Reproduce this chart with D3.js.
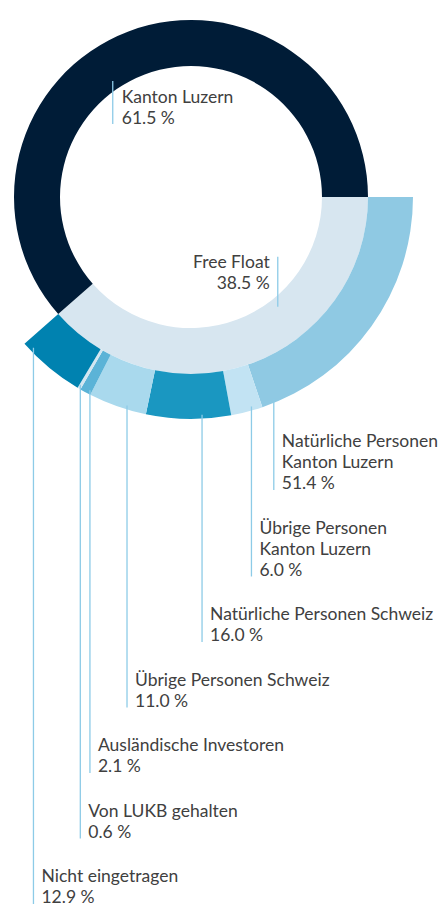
<!DOCTYPE html>
<html>
<head>
<meta charset="utf-8">
<script src="https://cdn.jsdelivr.net/npm/d3@7"></script>
<style>
  body { margin: 0; background: #fff; }
  text { font-family: Lato, "Open Sans", sans-serif; font-size: 17.5px; fill: #404040; }
</style>
</head>
<body>
<div class="visual"></div>
<script>
// shareholders (inner ring), in clockwise order from 3 o'clock
const holders = ["Free Float", "Kanton Luzern"];
const holderShares = [38.5, 61.5];

// free float breakdown (outer ring), clockwise
const groups = [
  ["Natürliche Personen", "Kanton Luzern"],
  ["Übrige Personen", "Kanton Luzern"],
  ["Natürliche Personen Schweiz"],
  ["Übrige Personen Schweiz"],
  ["Ausländische Investoren"],
  ["Von LUKB gehalten"],
  ["Nicht eingetragen"]
];
const groupShares = [51.4, 6.0, 16.0, 11.0, 2.1, 0.6, 12.9];

const width = 439;
const height = 906;
const cx = 191, cy = 197;

const holderColors = ["#d7e6f0", "#001c37"];
const groupColors = ["#8fc9e3", "#c2e3f3", "#1a97c1", "#a9d9ed", "#5bb3d7", "#d2e6f1", "#0082b0"];
const lineColor = "#8dcbe7";

const svg = d3
  .select(".visual")
  .append("svg")
  .attr("width", width)
  .attr("height", height);

const g = svg.append("g").attr("transform", `translate(${cx},${cy})`);

const start = Math.PI / 2;
const fmt = (v) => d3.format(".1f")(v) + " %";

// inner ring
const innerPie = d3.pie().sort(null).startAngle(start).endAngle(start + 2 * Math.PI);
const innerArc = d3.arc().innerRadius(131).outerRadius(177);
const innerData = innerPie(holderShares);

g.selectAll("path.holder")
  .data(innerData)
  .enter()
  .append("path")
  .attr("class", "holder")
  .attr("d", innerArc)
  .attr("fill", (d, i) => holderColors[i]);

// outer ring spans the free float slice only
const ff = innerData[0];
const outerPie = d3.pie().sort(null).startAngle(ff.startAngle).endAngle(ff.endAngle);
const outerArc = d3.arc().innerRadius(177).outerRadius(222);
const outerData = outerPie(groupShares);

g.selectAll("path.group")
  .data(outerData)
  .enter()
  .append("path")
  .attr("class", "group")
  .attr("d", outerArc)
  .attr("fill", (d, i) => groupColors[i]);

// labels for inner ring
const lineH = 21;
const innerLab = [
  { frac: 0.373, len: 50, up: true, anchor: "end", dx: -8, base: 268 },
  { frac: 0.44, len: 43, up: false, anchor: "start", dx: 9, base: 103 }
];
innerData.forEach((d, i) => {
  const L = innerLab[i];
  const a = d.startAngle + L.frac * (d.endAngle - d.startAngle);
  const x = 140 * Math.sin(a);
  const y = -140 * Math.cos(a);
  g.append("line")
    .attr("x1", x).attr("x2", x)
    .attr("y1", y).attr("y2", L.up ? y - L.len : y + L.len)
    .attr("stroke", lineColor)
    .attr("stroke-width", 1.3);
  const t = svg.append("text")
    .attr("x", cx + x + L.dx)
    .attr("y", L.base)
    .attr("text-anchor", L.anchor);
  [holders[i], fmt(holderShares[i])].forEach((s, k) => {
    t.append("tspan").attr("x", cx + x + L.dx).attr("dy", k ? lineH : 0).text(s);
  });
});

// labels for outer ring, stacked downward
const leadFrac = [0.95, 0.32, 0.34, 0.35, 0.22, 0.75, 0.87];
let base = 447;
outerData.forEach((d, i) => {
  const a = d.startAngle + leadFrac[i] * (d.endAngle - d.startAngle);
  const x = cx + 218 * Math.sin(a);
  const y0 = cy - 218 * Math.cos(a);
  const lines = groups[i].concat([fmt(groupShares[i])]);
  const last = base + (lines.length - 1) * lineH;
  svg.append("line")
    .attr("x1", x).attr("x2", x)
    .attr("y1", y0).attr("y2", last + 1)
    .attr("stroke", lineColor)
    .attr("stroke-width", 1.3);
  const t = svg.append("text").attr("x", x + 8).attr("y", base);
  lines.forEach((s, k) => {
    t.append("tspan").attr("x", x + 8).attr("dy", k ? lineH : 0).text(s);
  });
  base = last + 44.5;
});
</script>
</body>
</html>
